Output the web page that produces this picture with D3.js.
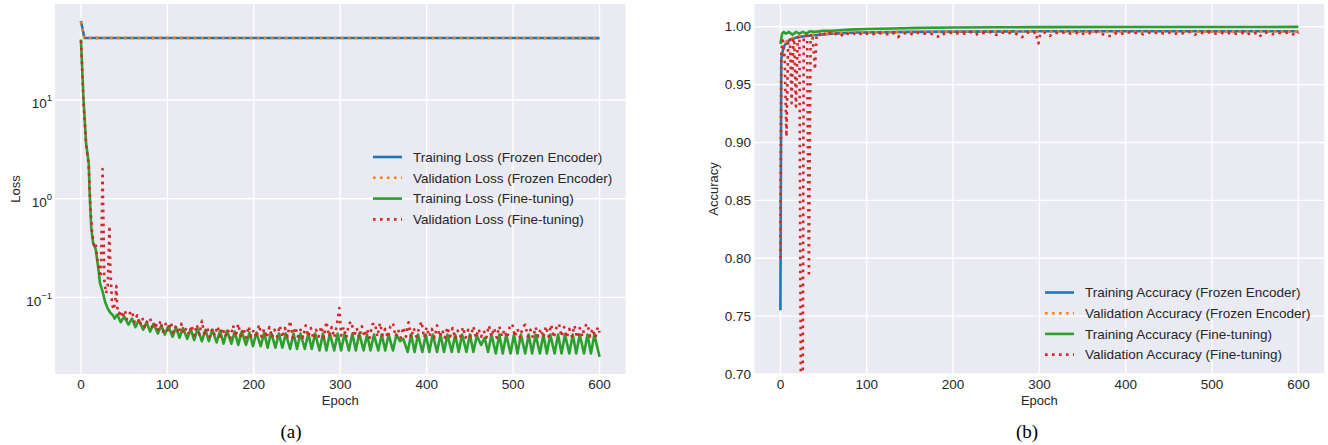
<!DOCTYPE html>
<html>
<head>
<meta charset="utf-8">
<script src="https://cdn.jsdelivr.net/npm/d3@7"></script>
<style>
  body { margin: 0; background: #fff; }
  svg { display: block; font-family: "Liberation Sans", Arial, sans-serif; }
</style>
</head>
<body>
<svg id="chart" width="1328" height="445"></svg>
<script>
// ---- data: [epoch, value] ----
const epochTicks = [0, 100, 200, 300, 400, 500, 600];
const lossTicks = [0.1, 1, 10];
const lossTickExp = ["\u22121", "0", "1"];
const accTicks = [0.70, 0.75, 0.80, 0.85, 0.90, 0.95, 1.00];

const lossLabels = ["Training Loss (Frozen Encoder)", "Validation Loss (Frozen Encoder)",
  "Training Loss (Fine-tuning)", "Validation Loss (Fine-tuning)"];
const accLabels = ["Training Accuracy (Frozen Encoder)", "Validation Accuracy (Frozen Encoder)",
  "Training Accuracy (Fine-tuning)", "Validation Accuracy (Fine-tuning)"];

const frozenTrainLoss = [[0, 63], [4, 42.6], [600, 42.4]];
const frozenValLoss = [[0, 62], [4, 42.6], [600, 42.4]];

const ftTrainLoss = [[0,41],[3,10],[6,3.6],[9,2.3],[10,1.2],[11,0.75],[12,0.5],[14,0.36],[17,0.31],[20,0.2],[22,0.14],
  [25,0.115],[28,0.09],[31,0.077],[34,0.07],[37,0.066],[39,0.061],
  [42,0.067],[46,0.056],[50,0.064],[55,0.053],[59,0.061],[63,0.050],[67,0.059],[72,0.047],[76,0.056],[80,0.045],
  [84,0.054],[89,0.043],[93,0.052],[97,0.042],[101,0.051],[106,0.040],[110,0.050],[114,0.039],[118,0.049],[123,0.038],
  [127,0.048],[131,0.037],[135,0.048],[140,0.036],[144,0.047],[148,0.036],[152,0.047],[157,0.035],[161,0.046],[165,0.034],
  [169,0.046],[174,0.034],[178,0.045],[182,0.033],[186,0.045],[191,0.033],[195,0.044],[199,0.032],[203,0.044],[208,0.032],
  [212,0.044],[216,0.031],[220,0.044],[225,0.031],[229,0.043],[233,0.031],[237,0.043],[242,0.030],[246,0.043],[250,0.030],
  [254,0.043],[259,0.030],[263,0.043],[267,0.030],[271,0.043],[276,0.029],[280,0.043],[284,0.029],[288,0.043],[293,0.029],
  [297,0.043],[301,0.029],[305,0.043],[310,0.029],[314,0.043],[318,0.029],[322,0.043],[327,0.029],[331,0.042],[335,0.029],
  [339,0.042],[344,0.029],[348,0.042],[352,0.029],[356,0.042],[361,0.029],[365,0.042],[369,0.036],[373,0.038],[378,0.028],
  [382,0.042],[386,0.028],[390,0.042],[395,0.028],[399,0.042],[403,0.028],[407,0.042],[412,0.028],[416,0.042],[420,0.028],
  [424,0.042],[429,0.028],[433,0.042],[437,0.028],[441,0.042],[446,0.028],[450,0.042],[454,0.028],[458,0.041],[463,0.033],
  [467,0.039],[471,0.028],[475,0.042],[480,0.027],[484,0.042],[488,0.027],[492,0.042],[497,0.027],[501,0.042],[505,0.027],
  [509,0.042],[514,0.027],[518,0.042],[522,0.027],[526,0.042],[531,0.027],[535,0.042],[539,0.027],[543,0.042],[548,0.027],
  [552,0.042],[556,0.027],[560,0.042],[565,0.027],[569,0.042],[573,0.027],[577,0.042],[582,0.027],[586,0.042],[590,0.027],
  [594,0.042],[600,0.025]];

const ftValLoss = [[0,40],[3,9.5],[6,3.5],[9,2.2],[11,0.8],[13,0.45],[15,0.34],[17,0.36],[19,0.24],[21,0.19],[23,0.16],
  [24,0.5],[25,2.0],[26,0.6],[27,0.15],[29,0.11],[31,0.13],[33,0.53],[34,0.2],[36,0.085],[38,0.075],[40,0.095],[41,0.13],
  [42,0.08],[44,0.068],[46,0.074],[48,0.062],[51,0.074],[53,0.060],[56,0.068],[59,0.073],[62,0.056],[65,0.066],[68,0.052],
  [71,0.062],[74,0.050],[77,0.058],[80,0.062],[83,0.048],[86,0.057],[89,0.046],[92,0.058],[95,0.045],[98,0.054],[101,0.045],
  [104,0.056],[107,0.044],[110,0.052],[113,0.043],[116,0.054],[119,0.043],[122,0.049],[125,0.042],[128,0.052],[131,0.041],
  [134,0.053],[137,0.042],[140,0.058],[143,0.041],[146,0.050],[149,0.040],[152,0.048],[155,0.041],[158,0.051],[161,0.040],
  [164,0.049],[167,0.040],[170,0.047],[173,0.039],[176,0.052],[179,0.040],[182,0.054],[185,0.040],[188,0.049],[191,0.039],
  [194,0.051],[197,0.040],[200,0.047],[203,0.039],[206,0.053],[209,0.040],[212,0.048],[215,0.039],[218,0.050],[221,0.039],
  [224,0.047],[227,0.040],[230,0.052],[233,0.039],[236,0.049],[239,0.040],[242,0.058],[245,0.039],[248,0.050],[251,0.040],
  [254,0.047],[257,0.039],[260,0.052],[263,0.040],[266,0.049],[269,0.038],[272,0.047],[275,0.040],[278,0.051],[281,0.039],
  [284,0.057],[287,0.040],[290,0.050],[293,0.039],[296,0.052],[299,0.078],[301,0.041],[304,0.050],[307,0.039],[310,0.054],
  [313,0.057],[316,0.040],[319,0.049],[322,0.039],[325,0.051],[328,0.040],[331,0.048],[334,0.039],[337,0.053],[340,0.055],
  [343,0.040],[346,0.055],[349,0.041],[352,0.048],[355,0.039],[358,0.051],[361,0.055],[364,0.040],[367,0.047],[370,0.039],
  [373,0.050],[376,0.040],[379,0.056],[382,0.039],[385,0.049],[388,0.040],[391,0.048],[394,0.057],[397,0.039],[400,0.050],
  [403,0.040],[406,0.048],[409,0.039],[412,0.052],[415,0.040],[418,0.047],[421,0.039],[424,0.050],[427,0.040],[430,0.049],
  [433,0.038],[436,0.046],[439,0.040],[442,0.050],[445,0.039],[448,0.047],[451,0.040],[454,0.051],[457,0.039],[460,0.048],
  [463,0.040],[466,0.046],[469,0.039],[472,0.052],[475,0.040],[478,0.049],[481,0.039],[484,0.051],[487,0.040],[490,0.047],
  [493,0.039],[496,0.050],[499,0.054],[502,0.040],[505,0.048],[508,0.039],[511,0.050],[514,0.053],[517,0.040],[520,0.047],
  [523,0.039],[526,0.050],[529,0.040],[532,0.048],[535,0.039],[538,0.051],[541,0.040],[544,0.053],[547,0.039],[550,0.049],
  [553,0.054],[556,0.040],[559,0.050],[562,0.039],[565,0.048],[568,0.040],[571,0.052],[574,0.039],[577,0.049],[580,0.040],
  [583,0.051],[586,0.054],[589,0.040],[592,0.048],[595,0.039],[598,0.050],[600,0.044]];

const frozenTrainAcc = [[0,0.755],[1,0.972],[3,0.980],[5,0.984],[8,0.987],[12,0.989],[20,0.991],[30,0.992],[45,0.993],
  [60,0.994],[90,0.995],[150,0.9955],[300,0.996],[600,0.996]];
const frozenValAcc = [[0,0.80],[1,0.976],[2,0.982],[4,0.985],[8,0.988],[14,0.990],[22,0.992],[35,0.993],[55,0.994],
  [90,0.995],[150,0.9955],[250,0.996],[400,0.9955],[600,0.996]];
const ftTrainAcc = [[0,0.985],[2,0.994],[4,0.9955],[6,0.994],[8,0.9945],[10,0.9955],[14,0.993],[18,0.9955],[22,0.994],
  [26,0.9955],[30,0.994],[34,0.996],[40,0.9955],[50,0.9965],[60,0.9965],[80,0.9975],[100,0.998],[130,0.9985],[160,0.999],
  [200,0.9993],[250,0.9995],[300,0.9996],[400,0.9997],[500,0.9997],[600,0.9998]];
const ftValAcc = [[0,0.80],[1,0.975],[2,0.985],[3,0.988],[5,0.972],[7,0.905],[9,0.986],[11,0.990],[13,0.934],[15,0.989],
  [16,0.990],[18,0.931],[20,0.990],[22,0.992],[25,0.45],[27,0.991],[29,0.993],[31,0.992],[33,0.784],[35,0.992],[37,0.994],
  [40,0.963],[42,0.993],[45,0.994],[48,0.991],[51,0.994],[54,0.993],[57,0.995],[60,0.993],[65,0.994],[70,0.992],[75,0.995],
  [80,0.993],[85,0.994],[90,0.9925],[95,0.995],[100,0.994],[106,0.993],[112,0.995],[118,0.994],[124,0.9935],[130,0.995],
  [136,0.991],[142,0.994],[148,0.995],[154,0.993],[160,0.995],[166,0.994],[172,0.9945],[178,0.993],[184,0.991],[190,0.994],
  [196,0.995],[202,0.9935],[208,0.995],[214,0.994],[220,0.9955],[226,0.993],[232,0.995],[238,0.994],[244,0.9955],[250,0.993],
  [256,0.995],[262,0.994],[268,0.995],[274,0.9935],[280,0.991],[286,0.995],[292,0.994],[296,0.9955],[298,0.987],[299,0.9856],
  [301,0.994],[306,0.995],[312,0.992],[318,0.995],[324,0.994],[330,0.9955],[336,0.994],[342,0.995],[348,0.993],[354,0.995],
  [360,0.994],[366,0.9955],[372,0.994],[378,0.992],[384,0.992],[390,0.995],[396,0.994],[402,0.9955],[408,0.994],[414,0.995],
  [420,0.9935],[426,0.995],[432,0.994],[438,0.9955],[444,0.994],[450,0.995],[456,0.9935],[462,0.995],[468,0.994],[474,0.9955],
  [480,0.993],[486,0.995],[492,0.994],[498,0.9955],[504,0.994],[510,0.995],[516,0.9935],[522,0.995],[528,0.994],[534,0.995],
  [540,0.993],[546,0.995],[552,0.994],[555,0.9913],[558,0.994],[564,0.995],[570,0.9935],[576,0.995],[582,0.994],[588,0.995],
  [594,0.9935],[597,0.9925],[600,0.995]];

// ---- drawing ----
const svg = d3.select("#chart");
const colors = ["#1f77b4", "#ff7f0e", "#2ca02c", "#d62728"];
const dotted = [false, true, false, true];
const textColor = "#262626";
const fontSize = 13.5;
const lw = 2.6;

function drawPanel(p) {
  const g = svg.append("g");
  const x = d3.scaleLinear().domain([-30, 630]).range([p.left, p.right]);
  const y = p.y;

  g.append("rect")
    .attr("x", p.left).attr("y", p.top)
    .attr("width", p.right - p.left).attr("height", p.bottom - p.top)
    .attr("fill", "#eaeaf2");

  // grid
  g.selectAll(".vgrid").data(epochTicks).enter().append("line")
    .attr("x1", d => x(d)).attr("x2", d => x(d))
    .attr("y1", p.top).attr("y2", p.bottom)
    .attr("stroke", "#fff").attr("stroke-width", 1.4);
  g.selectAll(".hgrid").data(p.yTicks).enter().append("line")
    .attr("x1", p.left).attr("x2", p.right)
    .attr("y1", d => y(d)).attr("y2", d => y(d))
    .attr("stroke", "#fff").attr("stroke-width", 1.4);

  // x tick labels
  g.selectAll(".xt").data(epochTicks).enter().append("text")
    .attr("x", d => x(d)).attr("y", p.bottom + 14.5)
    .attr("text-anchor", "middle")
    .attr("fill", textColor).style("font-size", fontSize + "px")
    .text(d => d);

  // y tick labels
  p.yLabel(g, y);

  // axis titles
  g.append("text")
    .attr("x", (p.left + p.right) / 2).attr("y", 404.5)
    .attr("text-anchor", "middle").attr("fill", textColor)
    .style("font-size", "13px").text("Epoch");
  g.append("text")
    .attr("transform", `translate(${p.yTitleX},${(p.top + p.bottom) / 2}) rotate(-90)`)
    .attr("text-anchor", "middle").attr("fill", textColor)
    .style("font-size", "13px").text(p.yTitle);

  // series
  const clipId = "clip" + p.left;
  svg.append("clipPath").attr("id", clipId).append("rect")
    .attr("x", p.left).attr("y", p.top)
    .attr("width", p.right - p.left).attr("height", p.bottom - p.top);

  const line = d3.line().x(d => x(d[0])).y(d => y(d[1]));
  p.series.forEach((s, i) => {
    g.append("path")
      .attr("clip-path", `url(#${clipId})`)
      .attr("d", line(s))
      .attr("fill", "none")
      .attr("stroke", colors[i])
      .attr("stroke-width", lw)
      .attr("stroke-linejoin", "round")
      .attr("stroke-dasharray", dotted[i] ? "2.6,4.4" : null);
  });

  // legend (no frame)
  const lg = g.append("g");
  p.labels.forEach((lab, i) => {
    const ly = p.legendY + i * p.legendStep;
    lg.append("line")
      .attr("x1", p.legendX).attr("x2", p.legendX + 29)
      .attr("y1", ly).attr("y2", ly)
      .attr("stroke", colors[i])
      .attr("stroke-width", lw)
      .attr("stroke-dasharray", dotted[i] ? "2.6,4.4" : null);
    lg.append("text")
      .attr("x", p.legendX + 40).attr("y", ly).attr("dy", "0.35em")
      .attr("fill", textColor).style("font-size", fontSize + "px")
      .text(lab);
  });

  // caption
  svg.append("text")
    .attr("x", p.captionX).attr("y", 438)
    .attr("text-anchor", "middle")
    .style("font-family", "'Liberation Serif', 'Times New Roman', serif")
    .style("font-size", "19px").attr("fill", "#000")
    .text(p.caption);
}

// left: loss, log scale
const yLoss = d3.scaleLog().domain([0.01675, 93.9]).range([374, 4]);
drawPanel({
  left: 55, right: 625.5, top: 4, bottom: 374,
  y: yLoss, yTicks: lossTicks,
  yLabel: (g, y) => {
    const t = g.selectAll(".yt").data(lossTicks).enter().append("text")
      .attr("x", 52).attr("y", d => y(d) + 8.3)
      .attr("text-anchor", "end").attr("fill", textColor)
      .style("font-size", fontSize + "px");
    t.append("tspan").text("10");
    t.append("tspan").attr("dy", -7).style("font-size", "9.5px")
      .text((d, i) => lossTickExp[i]);
  },
  yTitle: "Loss", yTitleX: 20,
  series: [frozenTrainLoss, frozenValLoss, ftTrainLoss, ftValLoss],
  labels: lossLabels, legendX: 373, legendY: 157, legendStep: 20.8,
  caption: "(a)", captionX: 291
});

// right: accuracy
const yAcc = d3.scaleLinear().domain([0.70, 1.0196]).range([374, 4]);
drawPanel({
  left: 754.5, right: 1324.3, top: 4, bottom: 374,
  y: yAcc, yTicks: accTicks,
  yLabel: (g, y) => {
    g.selectAll(".yt").data(accTicks).enter().append("text")
      .attr("x", 751).attr("y", d => y(d)).attr("dy", "0.35em")
      .attr("text-anchor", "end").attr("fill", textColor)
      .style("font-size", fontSize + "px")
      .text(d => d3.format(".2f")(d));
  },
  yTitle: "Accuracy", yTitleX: 718,
  series: [frozenTrainAcc, frozenValAcc, ftTrainAcc, ftValAcc],
  labels: accLabels, legendX: 1045, legendY: 292.5, legendStep: 20.7,
  caption: "(b)", captionX: 1027
});
</script>
</body>
</html>
